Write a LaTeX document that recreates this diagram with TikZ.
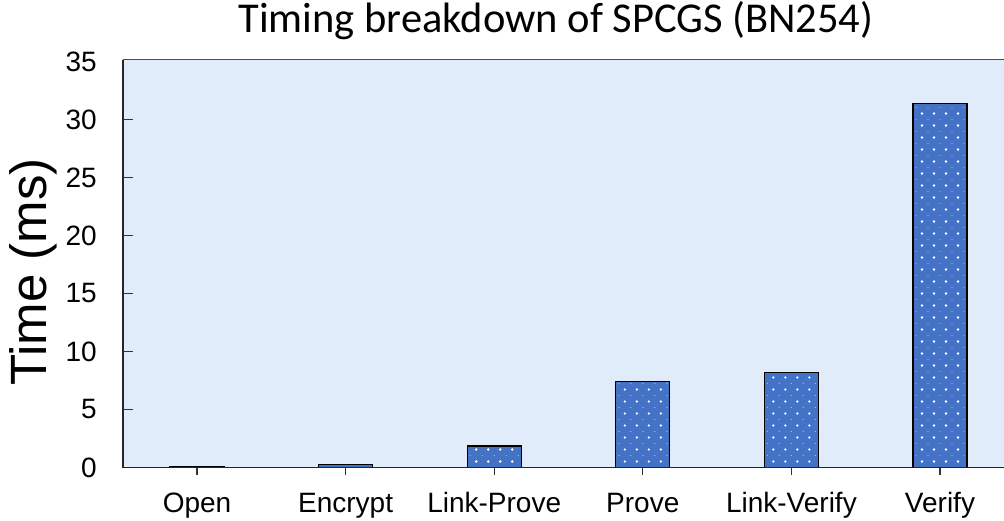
\documentclass[tikz,border=0pt]{standalone}
\usepackage{fontspec}
\setmainfont{Liberation Sans}
\newfontfamily\titlefont{Carlito}
\definecolor{bgblue}{RGB}{224,236,249}
\definecolor{barblue}{RGB}{68,114,196}
\definecolor{dotpale}{RGB}{150,180,230}
\tikzset{
  barbox/.style={fill=barblue, draw=black, line width=1.3pt},
  ticklab/.style={font=\fontsize{28}{30}\selectfont, inner sep=0pt},
  catlab/.style={font=\fontsize{28}{30}\selectfont, inner sep=0pt, anchor=base},
  axisline/.style={line width=1.6pt, draw=black!85},
}
\begin{document}
\begin{tikzpicture}[x=1pt,y=-1pt]
\useasboundingbox (0,0) rectangle (1004,521);
% plot background
\fill[bgblue] (123,60) rectangle (1004,467.5);
% bars
\foreach \name/\xc/\v in {open/197/0.05, encrypt/345.6/0.28, linkprove/494.2/1.85, prove/642.8/7.43, linkverify/791.4/8.2, verify/940/31.4}{
  \pgfmathsetmacro{\ytop}{467.5-\v*11.6}
  \begin{scope}
    \clip (\xc-27,\ytop) rectangle (\xc+27,467.5);
    \fill[barblue] (\xc-27,\ytop) rectangle (\xc+27,467.5);
    \foreach \j in {0,...,31}{
      \foreach \i in {-2,...,2}{
        \fill[white] (\xc+\i*12-6,467.5-6-\j*12) circle (1.3);
        \fill[dotpale] (\xc+\i*12,467.5-12-\j*12) circle (0.7);
      }
    }
  \end{scope}
  \draw[line width=1.3pt] (\xc-27,467.5) -- (\xc-27,\ytop) -- (\xc+27,\ytop) -- (\xc+27,467.5);
}
% axes
\draw[line width=1pt, black!70] (123,60) -- (1004,60);
\draw[axisline] (123,60) -- (123,467.5) -- (1004,467.5);
% y ticks and labels
\foreach \v in {0,5,...,35}{
  \pgfmathsetmacro{\yy}{467.5-\v*11.6}
  \node[ticklab, anchor=east] (yl\v) at (97,\yy) {\v};
}
\foreach \v in {5,10,...,30}{
  \pgfmathsetmacro{\yy}{467.5-\v*11.6}
  \draw[line width=1.2pt, black!80] (123,\yy) -- (133,\yy);
}
% x ticks and labels
\foreach \name/\xc/\lab in {open/197/Open, encrypt/345.6/Encrypt, linkprove/494.2/Link-Prove, prove/642.8/Prove, linkverify/791.4/Link-Verify, verify/940/Verify}{
  \draw[line width=1.2pt, black!80] (\xc,467.5) -- (\xc,475);
  \node[catlab] (x\name) at (\xc,512) {\lab};
}
% axis title
\node[font=\fontsize{51}{53}\selectfont, rotate=90, inner sep=0pt] (ylabel) at (33,272) {Time (ms)};
% title
\node[font=\titlefont\fontsize{42.5}{44}\selectfont, anchor=base, inner sep=0pt] (title) at (556,33) {Timing breakdown of SPCGS (BN254)};
\end{tikzpicture}
\end{document}
